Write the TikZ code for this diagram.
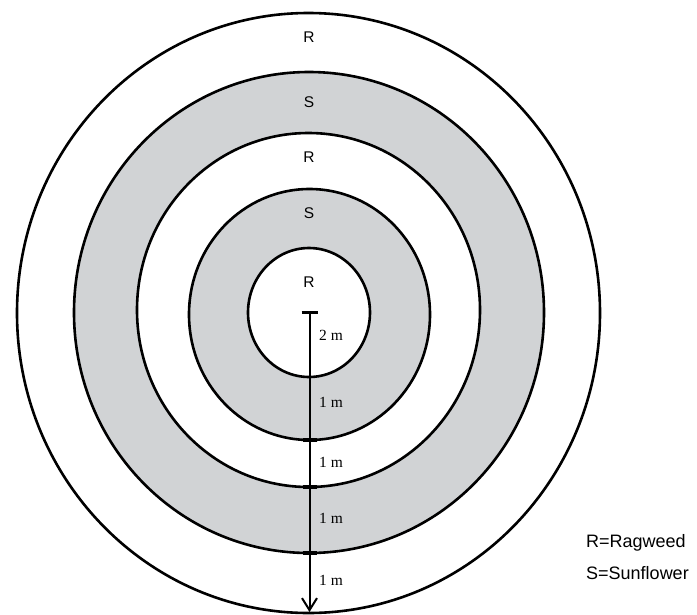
\documentclass[tikz,border=0pt]{standalone}
\usepackage{fontspec}
\setmainfont{Liberation Serif}
\newfontfamily\labelfont{Liberation Sans}
\usetikzlibrary{arrows.meta}
\definecolor{ringgray}{RGB}{209,211,213}

\begin{document}
\begin{tikzpicture}[x=1pt, y=-1pt,
    ring/.style={draw=black, line width=2.6pt},
    zone/.style={font=\labelfont\fontsize{15.5}{16}\selectfont, inner sep=0pt},
    dist/.style={font=\fontsize{15.5}{16}\selectfont, anchor=west, inner sep=0pt},
    legend/.style={font=\labelfont\fontsize{18}{19}\selectfont, anchor=west, inner sep=0pt}]
    \useasboundingbox (0,0) rectangle (697,614);

    % rings, outermost first so each one covers the previous
    \filldraw[ring, fill=white]    (308.5,313)   ellipse [x radius=291.5, y radius=300];
    \filldraw[ring, fill=ringgray] (309,312.5)   ellipse [x radius=235,   y radius=240.5];
    \filldraw[ring, fill=white]    (308.5,310)   ellipse [x radius=171.5, y radius=177];
    \filldraw[ring, fill=ringgray] (309.5,314.5) ellipse [x radius=120.5, y radius=125.5];
    \filldraw[ring, fill=white]    (309,312.5)   ellipse [x radius=61,    y radius=64.5];

    % crop zones
    \node[zone] (outerR) at (309,37)  {R};
    \node[zone] (outerS) at (309,102) {S};
    \node[zone] (midR)   at (309,157) {R};
    \node[zone] (innerS) at (309,213) {S};
    \node[zone] (coreR)  at (309,282) {R};

    % radius arrow with marks where it crosses the rings
    \coordinate (centre) at (309.5,312);
    \coordinate (rim)    at (309.5,612);
    \draw[line width=2pt, -{Straight Barb[length=12pt, width=15pt, line width=2pt]}] (centre) -- (rim);
    \draw[line width=3pt] ([xshift=-8pt]centre) -- ([xshift=8pt]centre);
    \foreach \y in {440,487,553}
        \draw[line width=3.5pt] (302.5,\y) -- (316.5,\y);

    \node[dist] (d0) at (319,335) {2 m};
    \node[dist] (d1) at (319,402) {1 m};
    \node[dist] (d2) at (319,462) {1 m};
    \node[dist] (d3) at (319,518) {1 m};
    \node[dist] (d4) at (319,580) {1 m};

    % key
    \node[legend] (keyR) at (586,543) {R=Ragweed};
    \node[legend] (keyS) at (586,573) {S=Sunflower};
\end{tikzpicture}
\end{document}
